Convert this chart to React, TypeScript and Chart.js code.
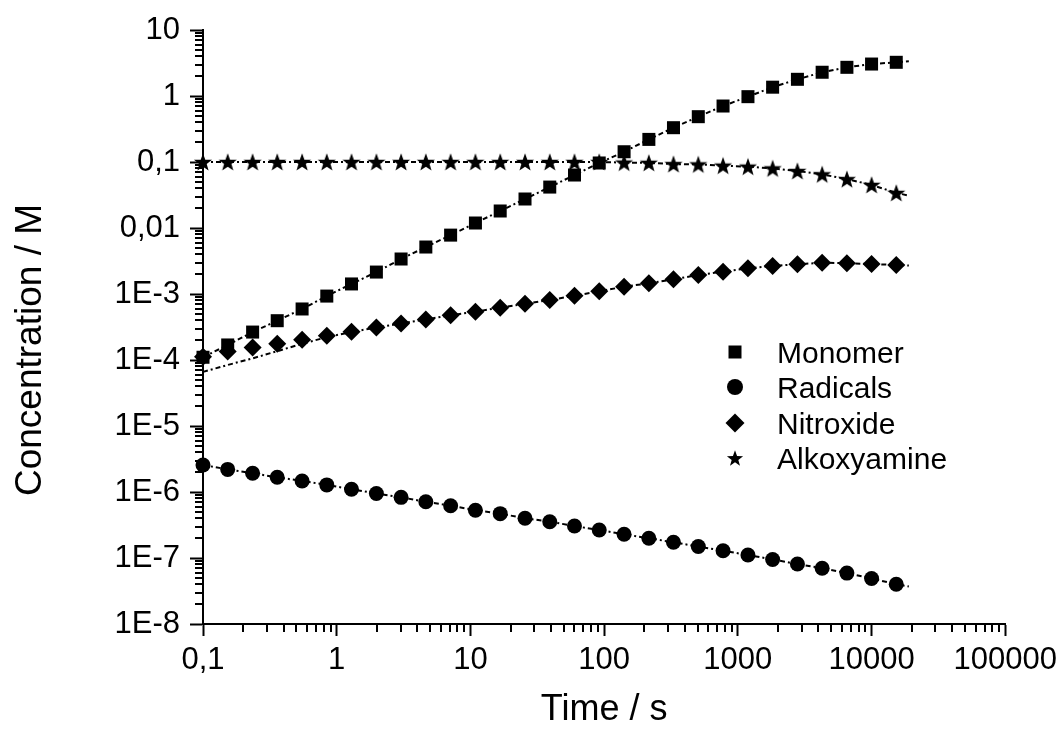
import React, { useEffect, useRef } from 'react';
import { Chart, registerables } from 'chart.js';

Chart.register(...registerables);

const FONT = '"Liberation Sans", Arial, Helvetica, sans-serif';

// Time points (s)
const times = [
  0.1, 0.153, 0.235, 0.359, 0.551, 0.843, 1.29, 1.98, 3.03, 4.64, 7.11, 10.9, 16.7, 25.6, 39.2,
  60, 91.9, 141, 216, 330, 506, 775, 1190, 1820, 2790, 4270, 6540, 10000, 15300,
];
const fitEndTime = 19000;

// Measured concentrations (M)
const monomer = [
  1.1e-4, 1.69e-4, 2.65e-4, 3.94e-4, 5.93e-4, 9.3e-4, 1.42e-3, 2.15e-3, 3.39e-3, 5.15e-3, 7.8e-3,
  0.0119, 0.0181, 0.0275, 0.0417, 0.0635, 0.0966, 0.143, 0.22, 0.331, 0.486, 0.705, 0.977, 1.36,
  1.79, 2.29, 2.72, 3.05, 3.24,
];
const radicals = [
  2.57e-6, 2.2e-6, 1.92e-6, 1.67e-6, 1.47e-6, 1.28e-6, 1.1e-6, 9.5e-7, 8.3e-7, 7.1e-7, 6.2e-7,
  5.3e-7, 4.7e-7, 4.0e-7, 3.55e-7, 3.05e-7, 2.66e-7, 2.29e-7, 1.99e-7, 1.73e-7, 1.49e-7, 1.29e-7,
  1.11e-7, 9.5e-8, 8.1e-8, 7.0e-8, 5.9e-8, 4.9e-8, 4.0e-8,
];
const nitroxide = [
  1.12e-4, 1.34e-4, 1.54e-4, 1.77e-4, 2.02e-4, 2.33e-4, 2.69e-4, 3.1e-4, 3.58e-4, 4.12e-4, 4.75e-4,
  5.4e-4, 6.2e-4, 7.1e-4, 8.1e-4, 9.4e-4, 1.1e-3, 1.29e-3, 1.45e-3, 1.67e-3, 1.94e-3, 2.18e-3,
  2.45e-3, 2.66e-3, 2.82e-3, 2.98e-3, 2.92e-3, 2.85e-3, 2.75e-3,
];
const alkoxyamine = [
  0.1, 0.1, 0.1, 0.1, 0.1, 0.1, 0.1, 0.1, 0.1, 0.1, 0.1, 0.1, 0.1, 0.1, 0.1, 0.1, 0.1, 0.098,
  0.097, 0.093, 0.092, 0.088, 0.085, 0.08, 0.073, 0.065, 0.055, 0.045, 0.034,
];

// Model (dotted) curves, same time grid plus one end point
const monomerFit = [...monomer, 3.35];
const radicalsFit = [...radicals, 3.7e-8];
const nitroxideFit = [
  6.6e-5, 8.4e-5, 1.06e-4, 1.36e-4, 1.76e-4, 2.22e-4, 2.66e-4, 3.1e-4, 3.58e-4, 4.12e-4, 4.75e-4,
  5.4e-4, 6.2e-4, 7.1e-4, 8.1e-4, 9.4e-4, 1.1e-3, 1.29e-3, 1.45e-3, 1.67e-3, 1.94e-3, 2.18e-3,
  2.45e-3, 2.66e-3, 2.82e-3, 2.98e-3, 2.92e-3, 2.85e-3, 2.75e-3, 2.7e-3,
];
const alkoxyamineFit = [...alkoxyamine, 0.031];

const seriesLabels = ['Monomer', 'Radicals', 'Nitroxide', 'Alkoxyamine'];

const xTickValues = [0.1, 1, 10, 100, 1000, 10000, 100000];
const xTickLabels = ['0,1', '1', '10', '100', '1000', '10000', '100000'];
const yTickValues = [1e-8, 1e-7, 1e-6, 1e-5, 1e-4, 1e-3, 0.01, 0.1, 1, 10];
const yTickLabels = ['1E-8', '1E-7', '1E-6', '1E-5', '1E-4', '1E-3', '0,01', '0,1', '1', '10'];

const xTitle = 'Time / s';
const yTitle = 'Concentration / M';

function starPath(ctx: CanvasRenderingContext2D, cx: number, cy: number, R: number, r: number) {
  ctx.beginPath();
  for (let i = 0; i < 10; i++) {
    const a = -Math.PI / 2 + (i * Math.PI) / 5;
    const rad = i % 2 === 0 ? R : r;
    const px = cx + rad * Math.cos(a);
    const py = cy + rad * Math.sin(a);
    if (i === 0) ctx.moveTo(px, py);
    else ctx.lineTo(px, py);
  }
  ctx.closePath();
}

function makeStar(): HTMLCanvasElement {
  const c = document.createElement('canvas');
  c.width = 22;
  c.height = 22;
  const g = c.getContext('2d')!;
  g.fillStyle = '#000';
  starPath(g, 11, 11.8, 9.5, 3.9);
  g.fill();
  return c;
}

function labelFor(values: number[], labels: string[], v: number) {
  const i = values.findIndex((t) => Math.abs(Math.log10(t) - Math.log10(v)) < 1e-6);
  return i >= 0 ? labels[i] : '';
}

const pairs = (xs: number[], ys: number[]) => ys.map((y, i) => ({ x: xs[i], y }));

export default function App() {
  const ref = useRef<HTMLCanvasElement>(null);

  useEffect(() => {
    document.body.style.margin = '0';
    const canvas = ref.current!;
    const star = makeStar();
    const fitTimes = [...times, fitEndTime];

    const lineStyle = {
      showLine: true,
      pointRadius: 0,
      borderColor: '#000',
      borderWidth: 2,
      borderDash: [5, 3, 2, 3],
      fill: false,
      clip: false as any,
    };
    const markerStyle = {
      showLine: false,
      backgroundColor: '#000',
      borderColor: '#000',
      pointBorderWidth: 0,
      clip: false as any,
    };

    const minorTicks = {
      id: 'minorTicks',
      afterDraw(chart: any) {
        const { ctx } = chart;
        const xs = chart.scales.x;
        const ys = chart.scales.y;
        ctx.save();
        ctx.strokeStyle = '#000';
        ctx.lineWidth = 2;
        for (let d = -1; d < 5; d++) {
          for (let m = 2; m <= 9; m++) {
            const px = Math.round(xs.getPixelForValue(m * Math.pow(10, d)));
            ctx.beginPath();
            ctx.moveTo(px, xs.top);
            ctx.lineTo(px, xs.top + 8);
            ctx.stroke();
          }
        }
        for (let d = -8; d < 1; d++) {
          for (let m = 2; m <= 9; m++) {
            const py = Math.round(ys.getPixelForValue(m * Math.pow(10, d)));
            ctx.beginPath();
            ctx.moveTo(ys.right, py);
            ctx.lineTo(ys.right - 8, py);
            ctx.stroke();
          }
        }
        ctx.restore();
      },
    };

    const extras = {
      id: 'extras',
      afterDraw(chart: any) {
        const { ctx } = chart;
        ctx.save();
        // y title
        ctx.fillStyle = '#000';
        ctx.font = `37px ${FONT}`;
        ctx.textAlign = 'center';
        ctx.textBaseline = 'alphabetic';
        ctx.translate(41, 350);
        ctx.rotate(-Math.PI / 2);
        ctx.fillText(yTitle, 0, 0);
        ctx.restore();

        // legend
        ctx.save();
        ctx.fillStyle = '#000';
        ctx.font = `30px ${FONT}`;
        ctx.textAlign = 'left';
        ctx.textBaseline = 'alphabetic';
        const mx = 735;
        const tx = 777;
        const rows = [352, 387, 423, 458];
        seriesLabels.forEach((lab, i) => {
          const cy = rows[i];
          ctx.beginPath();
          if (i === 0) {
            ctx.rect(mx - 6.5, cy - 6.5, 13, 13);
          } else if (i === 1) {
            ctx.arc(mx, cy, 8, 0, Math.PI * 2);
          } else if (i === 2) {
            ctx.moveTo(mx - 9.5, cy);
            ctx.lineTo(mx, cy - 9.5);
            ctx.lineTo(mx + 9.5, cy);
            ctx.lineTo(mx, cy + 9.5);
            ctx.closePath();
          } else {
            starPath(ctx, mx, cy + 0.8, 8.5, 3.5);
          }
          ctx.fill();
          ctx.fillText(lab, tx, cy + 11);
        });
        ctx.restore();
      },
    };

    const chart = new Chart(canvas, {
      type: 'scatter',
      data: {
        datasets: [
          { label: seriesLabels[0] + ' fit', data: pairs(fitTimes, monomerFit), ...lineStyle },
          { label: seriesLabels[1] + ' fit', data: pairs(fitTimes, radicalsFit), ...lineStyle },
          { label: seriesLabels[2] + ' fit', data: pairs(fitTimes, nitroxideFit), ...lineStyle },
          { label: seriesLabels[3] + ' fit', data: pairs(fitTimes, alkoxyamineFit), ...lineStyle },
          { label: seriesLabels[0], data: pairs(times, monomer), pointStyle: 'rect', pointRadius: 9.2, ...markerStyle },
          { label: seriesLabels[1], data: pairs(times, radicals), pointStyle: 'circle', pointRadius: 7.5, ...markerStyle },
          { label: seriesLabels[2], data: pairs(times, nitroxide), pointStyle: 'rectRot', pointRadius: 9, ...markerStyle },
          { label: seriesLabels[3], data: pairs(times, alkoxyamine), pointStyle: star as any, pointRadius: 9, ...markerStyle },
        ] as any,
      },
      options: {
        responsive: false,
        animation: false,
        devicePixelRatio: 1,
        layout: { padding: { top: 30, right: 56, left: 0, bottom: 0 } },
        plugins: {
          legend: { display: false },
          tooltip: { enabled: false },
        },
        scales: {
          x: {
            type: 'logarithmic',
            position: 'bottom',
            min: 0.1,
            max: 100000,
            afterFit: (s: any) => {
              s.height = 106;
            },
            afterBuildTicks: (s: any) => {
              s.ticks = xTickValues.map((v) => ({ value: v, major: true }));
            },
            grid: { drawOnChartArea: false, drawTicks: true, tickLength: 12, tickWidth: 2, tickColor: '#000' },
            border: { display: true, color: '#000', width: 2 },
            ticks: {
              autoSkip: false,
              maxRotation: 0,
              minRotation: 0,
              padding: 6,
              color: '#000',
              font: { family: FONT, size: 31 },
              callback: (v: any) => labelFor(xTickValues, xTickLabels, Number(v)),
            },
            title: {
              display: true,
              text: xTitle,
              color: '#000',
              font: { family: FONT, size: 36, lineHeight: 1 },
              padding: { top: 0, bottom: 2 },
            },
          },
          y: {
            type: 'logarithmic',
            position: 'left',
            min: 1e-8,
            max: 10,
            afterFit: (s: any) => {
              s.width = 203;
            },
            afterBuildTicks: (s: any) => {
              s.ticks = yTickValues.map((v) => ({ value: v, major: true }));
            },
            grid: { drawOnChartArea: false, drawTicks: true, tickLength: 13, tickWidth: 2, tickColor: '#000' },
            border: { display: true, color: '#000', width: 2 },
            ticks: {
              autoSkip: false,
              padding: 10,
              color: '#000',
              font: { family: FONT, size: 31 },
              callback: (v: any) => labelFor(yTickValues, yTickLabels, Number(v)),
            },
            title: { display: false },
          },
        },
      } as any,
      plugins: [minorTicks, extras],
    });

    return () => chart.destroy();
  }, []);

  return (
    <div style={{ width: 1063, height: 730 }}>
      <canvas ref={ref} width={1063} height={730} style={{ display: 'block' }} />
    </div>
  );
}
